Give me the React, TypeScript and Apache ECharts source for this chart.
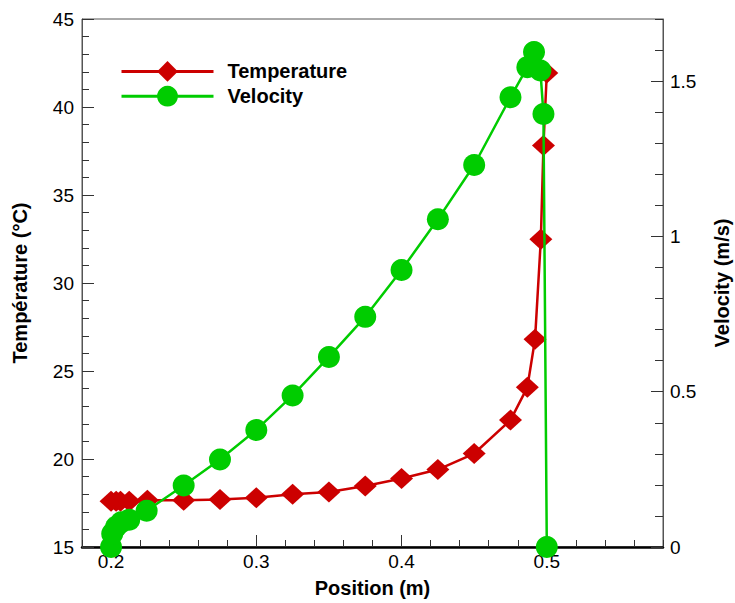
import React, { useEffect, useRef } from 'react';
import * as echarts from 'echarts';

// Temperature (°C) vs position (m)
const tempX = [0.2, 0.2035, 0.2065, 0.2125, 0.225, 0.25, 0.275, 0.3, 0.325, 0.35, 0.375, 0.4, 0.425, 0.45, 0.475, 0.4866, 0.4919, 0.4959, 0.4977, 0.5];
const tempY = [17.6, 17.6, 17.6, 17.6, 17.65, 17.65, 17.7, 17.8, 18.0, 18.13, 18.47, 18.89, 19.4, 20.31, 22.21, 24.07, 26.8, 32.49, 37.81, 41.93];

// Velocity (m/s) vs position (m)
const velX = [0.2, 0.2008, 0.2035, 0.207, 0.2125, 0.2245, 0.25, 0.275, 0.3, 0.325, 0.35, 0.375, 0.4, 0.425, 0.45, 0.475, 0.4866, 0.4912, 0.4956, 0.4977, 0.5];
const velY = [0, 0.043, 0.065, 0.08, 0.088, 0.117, 0.198, 0.282, 0.377, 0.488, 0.612, 0.741, 0.892, 1.055, 1.23, 1.448, 1.545, 1.594, 1.534, 1.394, 0];

// Tick labels
const xMajor = [0.2, 0.3, 0.4, 0.5];
const velMajor = [0, 0.5, 1, 1.5];

const FONT = 'Liberation Sans, Arial, Helvetica, sans-serif';
const RED = '#cc0000';
const GREEN = '#00cc00';

export default function App() {
  const ref = useRef<HTMLDivElement>(null);

  useEffect(() => {
    const chart = echarts.init(ref.current!, null, { renderer: 'svg' });
    const isMajorX = (v: number) => xMajor.some((m) => Math.abs(m - v) < 1e-6);
    const nameStyle = { fontSize: 20, fontWeight: 'bold', color: '#000', fontFamily: FONT };
    const labelStyle = { fontSize: 19, color: '#000', fontFamily: FONT };
    const tickLine = { color: '#333', width: 1 };

    chart.setOption({
      animation: false,
      backgroundColor: '#ffffff',
      textStyle: { fontFamily: FONT },
      grid: {
        left: 82, top: 19, width: 581, height: 528,
        outerBoundsMode: 'none', containLabel: false,
        show: true, borderColor: '#555', borderWidth: 1, backgroundColor: 'transparent',
      },
      legend: {
        orient: 'vertical', left: 120, top: 61, padding: 0,
        itemWidth: 92, itemHeight: 26, itemGap: 4,
        selectedMode: false,
        data: ['Temperature', 'Velocity'],
        lineStyle: { width: 3 },
        textStyle: { fontSize: 20, lineHeight: 20, fontWeight: 'bold', color: '#000', fontFamily: FONT, padding: [0, 0, 0, 9] },
      },
      xAxis: [
        {
          type: 'value', min: 0.18, max: 0.58, interval: 0.02, position: 'bottom',
          name: 'Position (m)', nameLocation: 'middle', nameGap: 31, nameTextStyle: nameStyle,
          axisLine: { show: true, onZero: false, lineStyle: { color: '#000', width: 2.5 } },
          axisTick: { show: true, inside: true, length: 7, lineStyle: tickLine },
          axisLabel: {
            ...labelStyle, margin: 5, interval: 0,
            formatter: (v: number) => (isMajorX(v) ? String(Math.round(v * 10) / 10) : ''),
          },
          splitLine: { show: false },
        },
        {
          type: 'value', min: 0.18, max: 0.58, position: 'bottom',
          axisLine: { show: false, onZero: false },
          axisLabel: { show: false },
          axisTick: { show: true, inside: true, length: 12, customValues: xMajor, lineStyle: tickLine },
          splitLine: { show: false },
        },
      ],
      yAxis: [
        {
          type: 'value', min: 15, max: 45, interval: 5, position: 'left',
          name: 'Température (°C)', nameLocation: 'middle', nameGap: 52, nameRotate: 90, nameTextStyle: nameStyle,
          axisLine: { show: true, onZero: false, lineStyle: { color: '#555', width: 1 } },
          axisTick: { show: true, inside: true, length: 12, lineStyle: tickLine },
          minorTick: { show: true, splitNumber: 5, length: 7, lineStyle: tickLine },
          axisLabel: { ...labelStyle, margin: 8 },
          splitLine: { show: false },
          minorSplitLine: { show: false },
        },
        {
          type: 'value', min: 0, max: 1.7, position: 'right',
          name: 'Velocity (m/s)', nameLocation: 'middle', nameGap: 49, nameRotate: 90, nameTextStyle: nameStyle,
          axisLine: { show: true, onZero: false, lineStyle: { color: '#555', width: 1 } },
          axisTick: { show: true, inside: true, length: 12, customValues: velMajor, lineStyle: tickLine },
          axisLabel: { ...labelStyle, margin: 7, customValues: velMajor },
          splitLine: { show: false },
        },
        {
          type: 'value', min: 0, max: 1.7, interval: 0.1, position: 'right',
          axisLine: { show: false, onZero: false },
          axisLabel: { show: false },
          axisTick: { show: true, inside: true, length: 8, lineStyle: tickLine },
          splitLine: { show: false },
        },
      ],
      series: [
        {
          name: 'Temperature', type: 'line', xAxisIndex: 0, yAxisIndex: 0,
          data: tempX.map((x, i) => [x, tempY[i]]),
          symbol: 'diamond', symbolSize: [23, 21], showAllSymbol: true,
          color: RED, itemStyle: { color: RED }, lineStyle: { color: RED, width: 2.5 },
          clip: false, z: 2,
        },
        {
          name: 'Velocity', type: 'line', xAxisIndex: 0, yAxisIndex: 1,
          data: velX.map((x, i) => [x, velY[i]]),
          symbol: 'circle', symbolSize: 22, showAllSymbol: true,
          color: GREEN, itemStyle: { color: GREEN }, lineStyle: { color: GREEN, width: 2.5 },
          clip: false, z: 3,
        },
      ],
    });

    return () => chart.dispose();
  }, []);

  return (
    <div
      ref={ref}
      style={{ position: 'absolute', left: 0, top: 0, width: 735, height: 603, background: '#fff' }}
    />
  );
}
